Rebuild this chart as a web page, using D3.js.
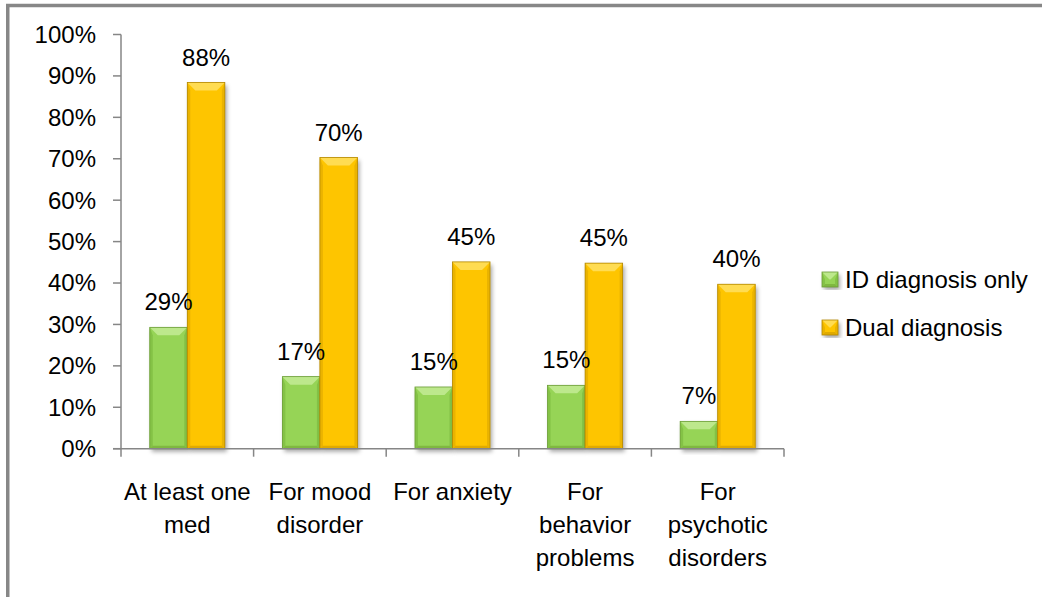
<!DOCTYPE html>
<html>
<head>
<meta charset="utf-8">
<script src="https://cdn.jsdelivr.net/npm/d3@7"></script>
<style>
  html, body { margin: 0; padding: 0; background: #fff; }
  svg { display: block; }
  text { font-family: "Liberation Sans", Arial, sans-serif; fill: #000; }
</style>
</head>
<body>
<svg id="chart" width="1042" height="597"></svg>
<script>
// ---- data ----
const categories = [
  ["At least one", "med"],
  ["For mood", "disorder"],
  ["For anxiety"],
  ["For", "behavior", "problems"],
  ["For", "psychotic", "disorders"]
];
const seriesNames = ["ID diagnosis only", "Dual diagnosis"];
const idOnly = [0.293, 0.174, 0.149, 0.153, 0.066];
const dual   = [0.884, 0.703, 0.451, 0.448, 0.397];
const yTicks = [0, 0.1, 0.2, 0.3, 0.4, 0.5, 0.6, 0.7, 0.8, 0.9, 1.0];

// ---- styles ----
const palettes = [
  { body: "#96d457", top: "#bde88c", side: "#84c246", bottom: "#7fb840", line: "#6c9c38" },
  { body: "#fec502", top: "#ffdc52", side: "#eab300", bottom: "#e0aa00", line: "#b38700" }
];

const svg = d3.select("#chart");
const defs = svg.append("defs");
const f = defs.append("filter").attr("id", "shadow")
  .attr("x", "-30%").attr("y", "-10%").attr("width", "160%").attr("height", "130%");
f.append("feDropShadow").attr("dx", 2).attr("dy", 3).attr("stdDeviation", 2.2)
  .attr("flood-color", "#000").attr("flood-opacity", 0.35);

// frame
svg.append("rect").attr("x", 7.75).attr("y", 5.5).attr("width", 1100).attr("height", 700)
  .attr("fill", "#fff").attr("stroke", "#878787").attr("stroke-width", 3.5);

const left = 121, right = 784, y0 = 448.7, y100 = 34.5;
const x0 = d3.scaleBand().domain(d3.range(categories.length)).range([left, right])
  .paddingInner(0.434).paddingOuter(0.217);
const x1 = d3.scaleBand().domain(d3.range(seriesNames.length)).range([0, x0.bandwidth()]);
const y = d3.scaleLinear().domain([0, 1]).range([y0, y100]);
const pct = d3.format(".0%");
const axisColor = "#868686";

// y axis
const yAxis = svg.append("g");
yAxis.append("line").attr("x1", left).attr("x2", left).attr("y1", y(1)).attr("y2", y(0))
  .attr("stroke", axisColor).attr("stroke-width", 1.5);
yAxis.selectAll("line.t").data(yTicks).join("line").attr("class", "t")
  .attr("x1", left - 8).attr("x2", left).attr("y1", d => y(d)).attr("y2", d => y(d))
  .attr("stroke", axisColor).attr("stroke-width", 1.5);
yAxis.selectAll("text").data(yTicks).join("text")
  .attr("x", 96).attr("y", d => y(d)).attr("dy", "0.35em")
  .attr("text-anchor", "end").attr("font-size", 24).text(d => pct(d));

// bars
function drawBar(g, x, yt, w, h, p) {
  const b = Math.min(8, h / 2), s = Math.min(3, w / 4);
  g.append("rect").attr("x", x).attr("y", yt).attr("width", w).attr("height", h)
    .attr("fill", p.body).attr("filter", "url(#shadow)");
  const poly = (pts, fill) => g.append("polygon")
    .attr("points", pts.map(q => q.join(",")).join(" ")).attr("fill", fill);
  poly([[x, yt], [x + s, yt + b], [x + s, yt + h - s], [x, yt + h]], p.side);
  poly([[x + w, yt], [x + w - s, yt + b], [x + w - s, yt + h - s], [x + w, yt + h]], p.side);
  poly([[x, yt + h], [x + s, yt + h - s], [x + w - s, yt + h - s], [x + w, yt + h]], p.bottom);
  poly([[x, yt], [x + w, yt], [x + w - b, yt + b], [x + b, yt + b]], p.top);
  g.append("rect").attr("x", x).attr("y", yt).attr("width", w).attr("height", h)
    .attr("fill", "none").attr("stroke", p.line).attr("stroke-width", 0.8);
}

const allSeries = [idOnly, dual];
const barsG = svg.append("g");
allSeries.forEach((vals, si) => {
  vals.forEach((v, ci) => {
    const x = x0(ci) + x1(si);
    drawBar(barsG.append("g"), x, y(v), x1.bandwidth(), y(0) - y(v), palettes[si]);
  });
});

// x axis
const xAxis = svg.append("g");
xAxis.append("line").attr("x1", left - 8).attr("x2", right).attr("y1", y0).attr("y2", y0)
  .attr("stroke", axisColor).attr("stroke-width", 1.5);
xAxis.selectAll("line.t").data(d3.range(categories.length + 1)).join("line").attr("class", "t")
  .attr("x1", i => left + i * x0.step()).attr("x2", i => left + i * x0.step())
  .attr("y1", y0).attr("y2", y0 + 8).attr("stroke", axisColor).attr("stroke-width", 1.5);
const cl = xAxis.selectAll("text").data(categories).join("text")
  .attr("text-anchor", "middle").attr("font-size", 24)
  .attr("transform", (d, i) => `translate(${x0(i) + x0.bandwidth() / 2},500)`);
cl.selectAll("tspan").data(d => d).join("tspan")
  .attr("x", 0).attr("y", (d, i) => i * 33).text(d => d);

// value labels
allSeries.forEach((vals, si) => {
  svg.append("g").selectAll("text").data(vals).join("text")
    .attr("x", (v, ci) => x0(ci) + x1(si) + x1.bandwidth() / 2)
    .attr("y", v => y(v) - 17)
    .attr("text-anchor", "middle").attr("font-size", 24).text(v => pct(v));
});

// legend
const lg = svg.append("g");
seriesNames.forEach((name, i) => {
  const yy = 272 + i * 48;
  drawBar(lg.append("g"), 822, yy, 16, 15, palettes[i]);
  lg.append("text").attr("x", 845).attr("y", yy + 7.5).attr("dy", "0.35em")
    .attr("font-size", 24).text(name);
});
</script>
</body>
</html>
